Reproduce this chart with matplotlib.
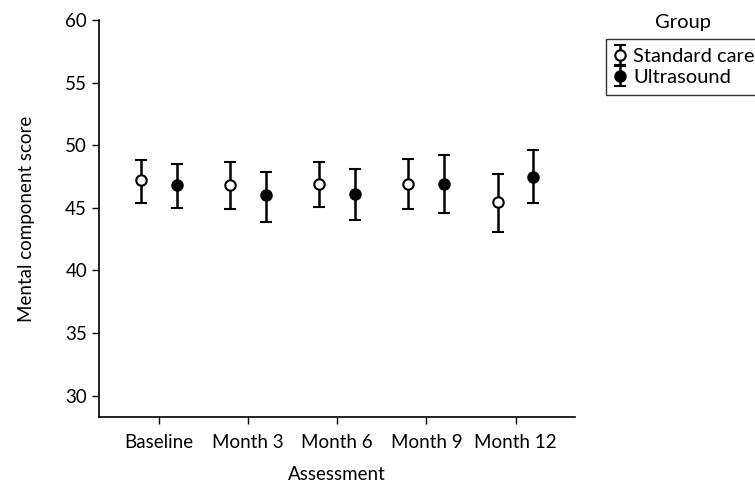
import numpy as np
import matplotlib
matplotlib.use("Agg")
import matplotlib.pyplot as plt

plt.rcParams["font.family"] = ["Lato", "DejaVu Sans"]

assessments = ["Baseline", "Month 3", "Month 6", "Month 9", "Month 12"]
groups = ["Standard care", "Ultrasound"]

# mean and 95% CI bounds
sc_mean = [47.2, 46.8, 46.9, 46.9, 45.5]
sc_low = [45.4, 44.9, 45.1, 44.9, 43.1]
sc_high = [48.8, 48.7, 48.7, 48.9, 47.7]

us_mean = [46.8, 46.0, 46.1, 46.9, 47.5]
us_low = [45.0, 43.9, 44.0, 44.6, 45.4]
us_high = [48.5, 47.9, 48.1, 49.2, 49.6]

yticks = [30, 35, 40, 45, 50, 55, 60]
FS = 13.5


def main():
    fig = plt.figure(figsize=(7.55, 4.88), dpi=100)
    ax = fig.add_axes([0.131, 0.1455, 0.631, 0.8135])

    x = np.arange(1, len(assessments) + 1)
    offset = 0.2
    series = [
        (sc_mean, sc_low, sc_high, "white", -offset),
        (us_mean, us_low, us_high, "black", offset),
    ]
    handles = []
    for (mean, low, high, face, dx), name in zip(series, groups):
        mean = np.array(mean)
        err = [mean - np.array(low), np.array(high) - mean]
        h = ax.errorbar(x + dx, mean, yerr=err, fmt="o", color="black",
                        mfc=face, mec="black", mew=1.5, ms=7.5,
                        elinewidth=1.8, capsize=4, capthick=1.8,
                        label=name, zorder=3)
        handles.append(h)

    ax.set_xlim(0.33, 5.67)
    ax.set_ylim(28.3, 60)
    ax.set_xticks(x)
    ax.set_xticklabels(assessments)
    ax.set_yticks(yticks)
    ax.tick_params(labelsize=FS, length=5, width=1)
    ax.tick_params(axis="x", pad=7)
    for side in ["top", "right"]:
        ax.spines[side].set_visible(False)
    for side in ["left", "bottom"]:
        ax.spines[side].set_linewidth(1.2)

    ax.set_xlabel("Assessment", fontsize=FS, labelpad=11)
    ax.set_ylabel("Mental component score", fontsize=FS, labelpad=22)

    leg = fig.legend(handles=handles, labels=groups, loc="upper left",
                     bbox_to_anchor=(0.803, 0.920), fontsize=14.5,
                     frameon=True, fancybox=False, borderpad=0.45,
                     handlelength=0.5, handletextpad=0.4, labelspacing=0.2,
                     borderaxespad=0)
    leg.get_frame().set_edgecolor("black")
    leg.get_frame().set_linewidth(1)
    fig.text(0.905, 0.953, "Group", fontsize=14.5, ha="center", va="center")

    fig.savefig("out.png", dpi=100)


if __name__ == "__main__":
    main()
